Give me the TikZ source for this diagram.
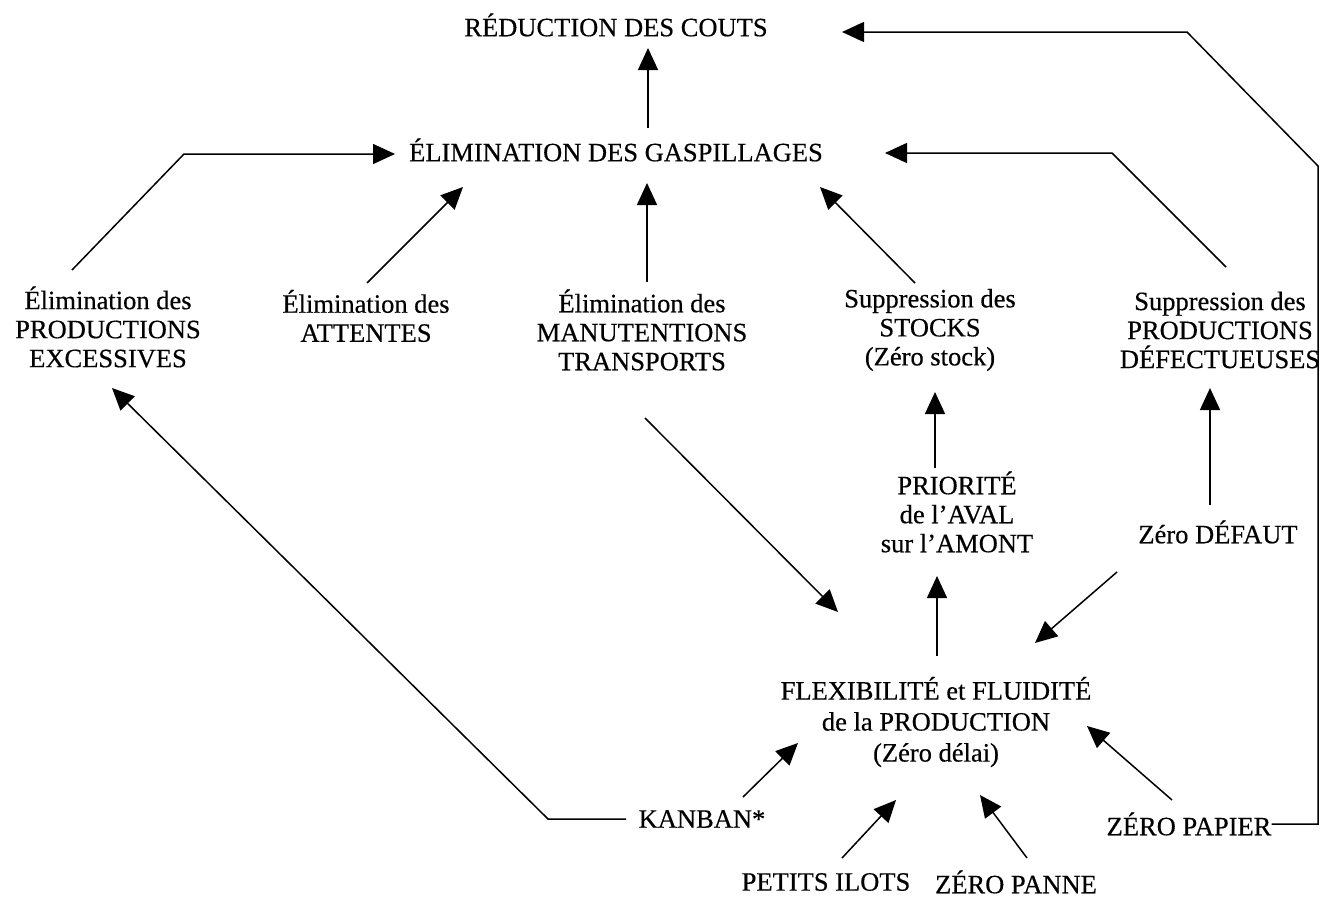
\documentclass[tikz,border=0pt]{standalone}
\usepackage{fontspec}
\setmainfont{Liberation Serif}[FakeBold=0.4]
\usetikzlibrary{arrows.meta}
\begin{document}
\begin{tikzpicture}[x=1pt,y=-1pt,
  lbl/.style={inner sep=0pt,align=center,font=\fontsize{26.5}{29}\selectfont},
  conn/.style={line width=1.5pt,-{Triangle[length=22pt,width=20pt]}},
  plain/.style={line width=1.5pt}]
\useasboundingbox (0,0) rectangle (1330,897);
% nodes
\node[lbl] (red) at (616,25) {RÉDUCTION DES COUTS};
\node[lbl] (elim) at (616,150) {ÉLIMINATION DES GASPILLAGES};
\node[lbl] (exc) at (108,327) {Élimination des\\PRODUCTIONS\\EXCESSIVES};
\node[lbl] (att) at (366,316) {Élimination des\\ATTENTES};
\node[lbl] (man) at (642,330) {Élimination des\\MANUTENTIONS\\TRANSPORTS};
\node[lbl] (sto) at (930,330) {Suppression des\\STOCKS\\(Zéro stock)};
\node[lbl] (def) at (1220,330) {Suppression des\\PRODUCTIONS\\DÉFECTUEUSES};
\node[lbl] (prio) at (957,512) {PRIORITÉ\\de l’AVAL\\sur l’AMONT};
\node[lbl] (zdef) at (1218,532) {Zéro DÉFAUT};
\node[lbl,font=\fontsize{26.5}{31}\selectfont] (flex) at (936,722) {FLEXIBILITÉ et FLUIDITÉ\\de la PRODUCTION\\(Zéro délai)};
\node[lbl] (kanban) at (702,819) {KANBAN*};
\node[lbl] (zpap) at (1189,824) {ZÉRO PAPIER};
\node[lbl] (ilots) at (826,882) {PETITS ILOTS};
\node[lbl] (panne) at (1016,882) {ZÉRO PANNE};
% connector end points
\coordinate (elimT) at (648,128); \coordinate (redB) at (648,48);
\coordinate (c1) at (1318,824);
\coordinate (c2) at (1318,166); \coordinate (c3) at (1187,32); \coordinate (redR) at (842,32);
\coordinate (excT) at (72,270); \coordinate (c4) at (184,154); \coordinate (elimL) at (395,154);
\coordinate (attT) at (367,283); \coordinate (elimLB) at (463,187);
\coordinate (manT) at (647,282); \coordinate (elimB) at (647,183);
\coordinate (stoT) at (915,283); \coordinate (elimRB) at (820,187);
\coordinate (defT) at (1226,267); \coordinate (c5) at (1112,153); \coordinate (elimR) at (885,153);
\coordinate (kanL) at (626,819); \coordinate (c6) at (548,819); \coordinate (excB) at (112,388);
\coordinate (manB) at (645,418); \coordinate (flexTL) at (838,612);
\coordinate (flexT) at (937,656); \coordinate (prioB) at (937,576);
\coordinate (prioT) at (935,468); \coordinate (stoB) at (935,392);
\coordinate (zdefT) at (1210,505); \coordinate (defB) at (1210,388);
\coordinate (zdefB) at (1117,572); \coordinate (flexTR) at (1035,643);
\coordinate (zpapT) at (1172,800); \coordinate (flexR) at (1087,726);
\coordinate (kanT) at (743,797); \coordinate (flexL) at (798,743);
\coordinate (ilotsT) at (842,858); \coordinate (flexB1) at (896,800);
\coordinate (panneT) at (1027,858); \coordinate (flexB2) at (980,795);
% connectors
\draw[conn] (elimT) -- (redB);
\draw[conn] (zpap.east) -- (c1) -- (c2) -- (c3) -- (redR);
\draw[conn] (excT) -- (c4) -- (elimL);
\draw[conn] (attT) -- (elimLB);
\draw[conn] (manT) -- (elimB);
\draw[conn] (stoT) -- (elimRB);
\draw[conn] (defT) -- (c5) -- (elimR);
\draw[conn] (kanL) -- (c6) -- (excB);
\draw[conn] (manB) -- (flexTL);
\draw[conn] (flexT) -- (prioB);
\draw[conn] (prioT) -- (stoB);
\draw[conn] (zdefT) -- (defB);
\draw[conn] (zdefB) -- (flexTR);
\draw[conn] (zpapT) -- (flexR);
\draw[conn] (kanT) -- (flexL);
\draw[conn] (ilotsT) -- (flexB1);
\draw[conn] (panneT) -- (flexB2);
\end{tikzpicture}
\end{document}
